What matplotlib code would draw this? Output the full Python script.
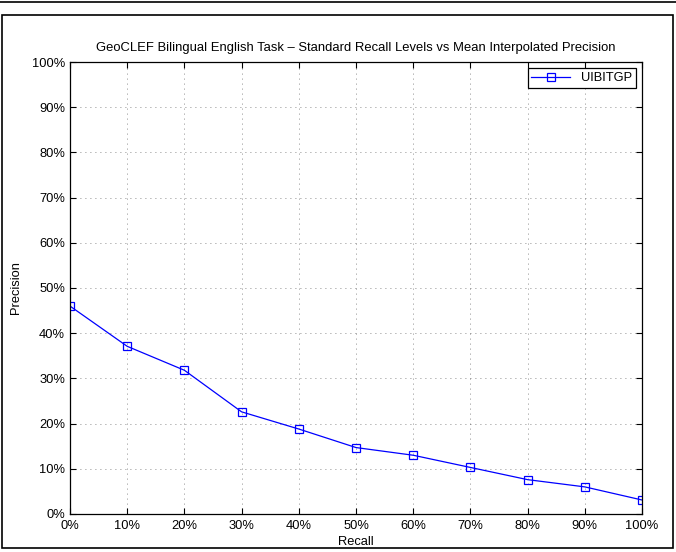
import numpy as np
import matplotlib
matplotlib.use('Agg')
import matplotlib.pyplot as plt
from matplotlib.patches import Rectangle
from matplotlib.lines import Line2D
from matplotlib.ticker import FuncFormatter

plt.rcParams['font.family'] = ['Liberation Sans', 'DejaVu Sans']

recall = [0, 10, 20, 30, 40, 50, 60, 70, 80, 90, 100]
precision = [46.0, 37.1, 31.8, 22.6, 18.8, 14.7, 13.0, 10.3, 7.6, 6.0, 3.1]
series_name = 'UIBITGP'
title = 'GeoCLEF Bilingual English Task \u2013 Standard Recall Levels vs Mean Interpolated Precision'

FS = 9.3

fig = plt.figure(figsize=(6.76, 5.52), dpi=100)

# page line and figure frame
fig.add_artist(Line2D([0, 1], [1 - 2/552, 1 - 2/552], color='black', lw=1.2))
fig.add_artist(Rectangle((2/676, 4/552), 671/676, 533/552, fill=False,
                         edgecolor='black', lw=1.2))

ax = fig.add_axes([70/676, 38/552, 572/676, 452/552])
ax.plot(recall, precision, color='blue', lw=0.9, marker='s', markersize=5.5,
        markerfacecolor='none', markeredgecolor='blue', markeredgewidth=0.9,
        label=series_name)

ax.set_xlim(0, 100)
ax.set_ylim(0, 100)
ax.set_xticks(np.arange(0, 101, 10))
ax.set_yticks(np.arange(0, 101, 10))
pct = FuncFormatter(lambda v, p: '%d%%' % v)
ax.xaxis.set_major_formatter(pct)
ax.yaxis.set_major_formatter(pct)
ax.tick_params(direction='in', top=True, right=True, labelsize=FS, length=4, width=0.8)
ax.tick_params(axis='x', pad=4)
ax.grid(True, linestyle=(0, (1, 5)), color='black', lw=0.6, alpha=0.6)
for s in ax.spines.values():
    s.set_linewidth(0.9)

ax.set_title(title, fontsize=FS + 0.1, pad=8)
ax.set_xlabel('Recall', fontsize=FS, labelpad=3)
ax.set_ylabel('Precision', fontsize=FS, labelpad=7)

leg = ax.legend(loc='upper right', fontsize=FS, fancybox=False, framealpha=1,
                edgecolor='black', borderpad=0.3, handlelength=3,
                borderaxespad=0.5)
leg.get_frame().set_linewidth(0.9)

fig.savefig('out.png', dpi=100)
